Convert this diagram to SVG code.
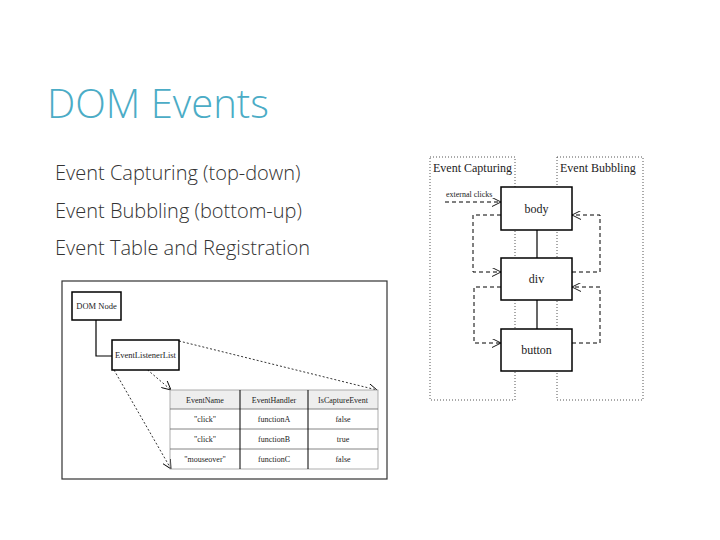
<svg xmlns="http://www.w3.org/2000/svg" width="720" height="540" viewBox="0 0 720 540">
<defs>
<marker id="oa" viewBox="0 0 10 10" refX="10" refY="5" markerWidth="9" markerHeight="9" orient="auto" markerUnits="userSpaceOnUse"><path d="M0,0 L10,5 L0,10" fill="none" stroke="#000" stroke-width="1"/></marker>
</defs>
<style>
.t{font-family:"Open Sans","Liberation Sans",sans-serif;font-weight:300;}
.s{font-family:"Liberation Serif",serif;fill:#222;}
.bx{fill:#fff;stroke:#000;stroke-width:1.5}
.dot{fill:none;stroke:#555;stroke-width:1;stroke-dasharray:1,2}
.da{fill:none;stroke:#000;stroke-width:1;stroke-dasharray:4,3}
.sd{fill:none;stroke:#000;stroke-width:0.8;stroke-dasharray:2,2}
</style>
<rect width="720" height="540" fill="#fff"/>
<text class="t" x="47" y="118" font-size="40" fill="#4BACC6">DOM Events</text>
<g class="t" font-size="20" fill="#333">
<text x="55" y="180">Event Capturing (top-down)</text>
<text x="55" y="218">Event Bubbling (bottom-up)</text>
<text x="55" y="255">Event Table and Registration</text>
</g>
<g id="capturing"><rect class="dot" x="430" y="157" width="85" height="243"/><text class="s" x="433" y="172" font-size="12">Event Capturing</text></g>
<g id="bubbling"><rect class="dot" x="557" y="157" width="86" height="243"/><text class="s" x="560" y="172" font-size="12">Event Bubbling</text></g>
<g id="connectors">
<line x1="537" y1="230" x2="537" y2="258" stroke="#000" stroke-width="1.2"/>
<line x1="537" y1="300" x2="537" y2="329" stroke="#000" stroke-width="1.2"/>
<path class="da" d="M445,202 H501" marker-end="url(#oa)"/>
<path class="da" d="M501,215 H473 V272 H501" marker-end="url(#oa)"/>
<path class="da" d="M501,287 H474 V343 H501" marker-end="url(#oa)"/>
<path class="da" d="M572,272 H600 V215 H572" marker-end="url(#oa)"/>
<path class="da" d="M572,343 H600 V287 H572" marker-end="url(#oa)"/>
<path d="M96,320 V356 H112" fill="none" stroke="#000" stroke-width="1.2"/>
<path class="sd" d="M114,341 L171,390" marker-end="url(#oa)"/>
<path class="sd" d="M114,370 L171,469" marker-end="url(#oa)"/>
<path class="sd" d="M179,341 L377,390" marker-end="url(#oa)"/>
</g>
<text class="s" x="446" y="197" font-size="8" fill="#444">external clicks</text>
<g id="body"><rect class="bx" x="501" y="187" width="71" height="43"/><text class="s" x="536.5" y="213" font-size="12" text-anchor="middle">body</text></g>
<g id="div"><rect class="bx" x="501" y="258" width="71" height="42"/><text class="s" x="536.5" y="283" font-size="12" text-anchor="middle">div</text></g>
<g id="button"><rect class="bx" x="501" y="329" width="71" height="42"/><text class="s" x="536.5" y="354" font-size="12" text-anchor="middle">button</text></g>
<rect x="62" y="281" width="325" height="198" fill="none" stroke="#333" stroke-width="1.2"/>
<g id="domnode"><rect class="bx" x="72" y="292" width="49" height="28"/><text class="s" x="96.5" y="309" font-size="8.5" text-anchor="middle">DOM Node</text></g>
<g id="listenerlist"><rect class="bx" x="112" y="340" width="67" height="30"/><text class="s" x="145.5" y="358" font-size="8.5" text-anchor="middle">EventListenerList</text></g>
<g id="table" class="s" font-size="8" text-anchor="middle">
<rect x="170" y="390" width="208" height="19" fill="#eee"/>
<rect x="170" y="390" width="208" height="79" fill="none" stroke="#999" stroke-width="0.8"/>
<line x1="170" y1="409" x2="378" y2="409" stroke="#666" stroke-width="0.8"/>
<line x1="170" y1="429" x2="378" y2="429" stroke="#666" stroke-width="0.8"/>
<line x1="170" y1="449" x2="378" y2="449" stroke="#666" stroke-width="0.8"/>
<line x1="240" y1="390" x2="240" y2="469" stroke="#000" stroke-width="1"/>
<line x1="308" y1="390" x2="308" y2="469" stroke="#000" stroke-width="1"/>
<text x="205" y="403">EventName</text><text x="274" y="403">EventHandler</text><text x="343" y="403">IsCaptureEvent</text>
<text x="205" y="422">"click"</text><text x="274" y="422">functionA</text><text x="343" y="422">false</text>
<text x="205" y="442">"click"</text><text x="274" y="442">functionB</text><text x="343" y="442">true</text>
<text x="205" y="462">"mouseover"</text><text x="274" y="462">functionC</text><text x="343" y="462">false</text>
</g>
</svg>
